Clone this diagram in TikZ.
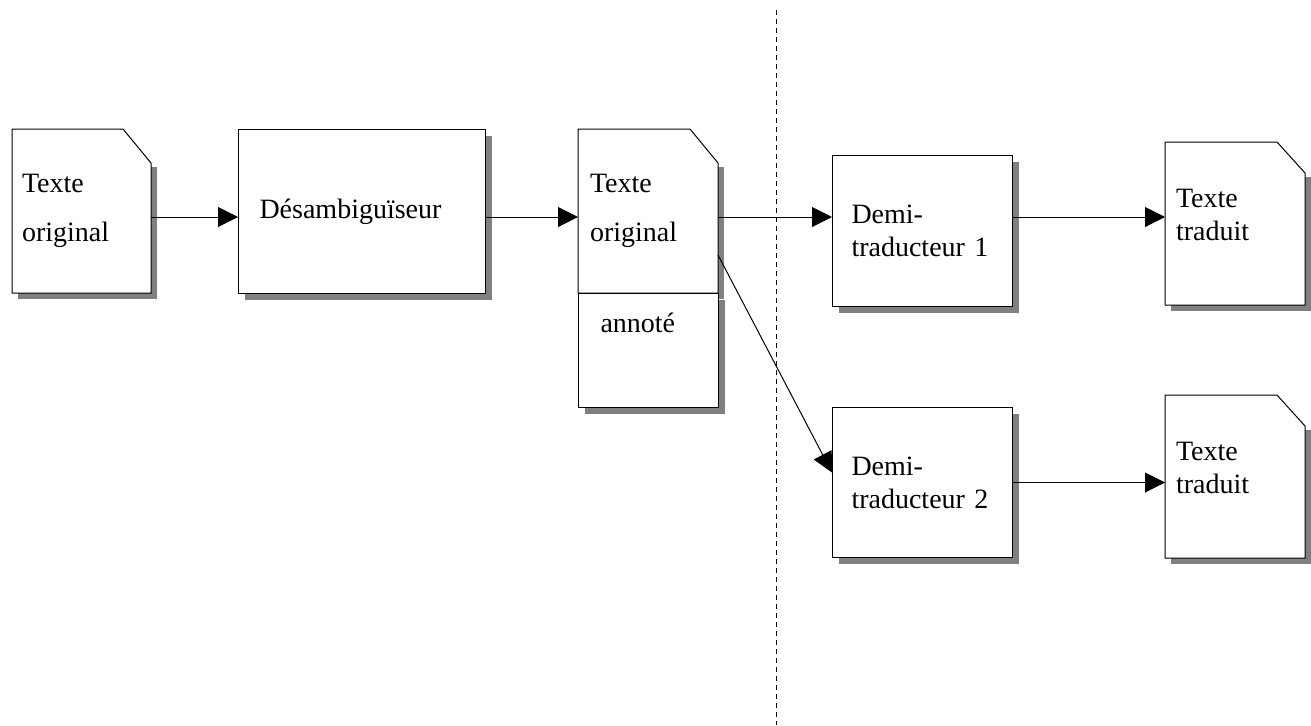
\documentclass[tikz,border=0pt]{standalone}
\usepackage{fontspec}
\setmainfont{Liberation Serif}
\usetikzlibrary{arrows.meta,shadows,backgrounds}

\tikzset{
  box/.style={draw, fill=white, line width=0.5pt, anchor=north west, align=left,
    inner ysep=0pt, font=\fontsize{14}{16.5}\selectfont,
    drop shadow={shadow xshift=3pt, shadow yshift=-3pt, fill=black!50, opacity=1}},
  paper/.style={anchor=north west, align=left, inner ysep=0pt, outer sep=0pt,
    font=\fontsize{14}{16.5}\selectfont},
  flow/.style={-{Triangle[length=10pt,width=10pt]}, line width=0.5pt},
}
% feuille a coin plie, dessinee sous le noeud #1 (hauteur du pli #2)
\newcommand\papier[2]{%
  \begin{scope}[on background layer]
    \fill[black!50] ([xshift=3pt,yshift=-3pt]#1.south west) rectangle ([xshift=3pt,yshift=-#2-2pt]#1.north east);
    \filldraw[fill=white, line width=0.5pt] (#1.north west) -- ([xshift=-14pt]#1.north east)
      -- ([yshift=-#2]#1.north east) -- (#1.south east) -- (#1.south west) -- cycle;
  \end{scope}}

\begin{document}
\begin{tikzpicture}[x=0.5pt,y=-0.5pt]
  \useasboundingbox (0,0) rectangle (1311,725);
  % documents et modules
  \node[paper, minimum width=69.5pt, minimum height=82pt, text width=59.5pt, inner xsep=5pt,
    font=\fontsize{14}{24.5}\selectfont] (source) at (12,129) {Texte\\original};
  \papier{source}{17pt}
  \node[box, minimum width=123.5pt, minimum height=82pt, text width=102.5pt, inner xsep=10.5pt]
    (desamb) at (238,129) {Désambiguïseur};
  \node[paper, minimum width=70pt, minimum height=82pt, text width=58pt, inner xsep=6pt,
    font=\fontsize{14}{24.5}\selectfont] (annot) at (578,129) {Texte\\original};
  \papier{annot}{17pt}
  \node[box, minimum width=70pt, text width=48pt, inner xsep=11pt, text height=19.5pt,
    text depth=37.5pt] (annotlow) at (annot.south west) {annoté};
  \node[box, minimum width=90pt, minimum height=75.5pt, text width=71pt, inner xsep=9.5pt]
    (demi1) at (832,155) {Demi-\\traducteur 1};
  \node[box, minimum width=90pt, minimum height=75pt, text width=71pt, inner xsep=9.5pt]
    (demi2) at (832,407) {Demi-\\traducteur 2};
  \node[paper, minimum width=70pt, minimum height=81.5pt, text width=59pt, inner xsep=5.5pt,
    text depth=25.5pt] (cible1) at (1165,142) {Texte\\traduit};
  \papier{cible1}{15.5pt}
  \node[paper, minimum width=70pt, minimum height=81.5pt, text width=59pt, inner xsep=5.5pt,
    text depth=25.5pt] (cible2) at (1165,395) {Texte\\traduit};
  \papier{cible2}{15.5pt}

  % separation
  \coordinate (cuttop) at (776,10);
  \coordinate (cutbot) at (776,725);
  \draw[line width=0.5pt, dash pattern=on 2.5pt off 2pt] (cuttop) -- (cutbot);

  % fleches
  \coordinate (row) at (0,217);
  \draw[flow] (source.east |- row) -- (desamb.west |- row);
  \draw[flow] (desamb.east |- row) -- (annot.west |- row);
  \draw[flow] (annot.east |- row) -- (demi1.west |- row);
  \draw[flow] ([yshift=-22pt]annot.east) -- ([yshift=5pt]demi2.west);
  \draw[flow] (demi1.east |- row) -- (cible1.west |- row);
  \draw[flow] (demi2.east) -- (cible2.west |- demi2.east);
\end{tikzpicture}
\end{document}
